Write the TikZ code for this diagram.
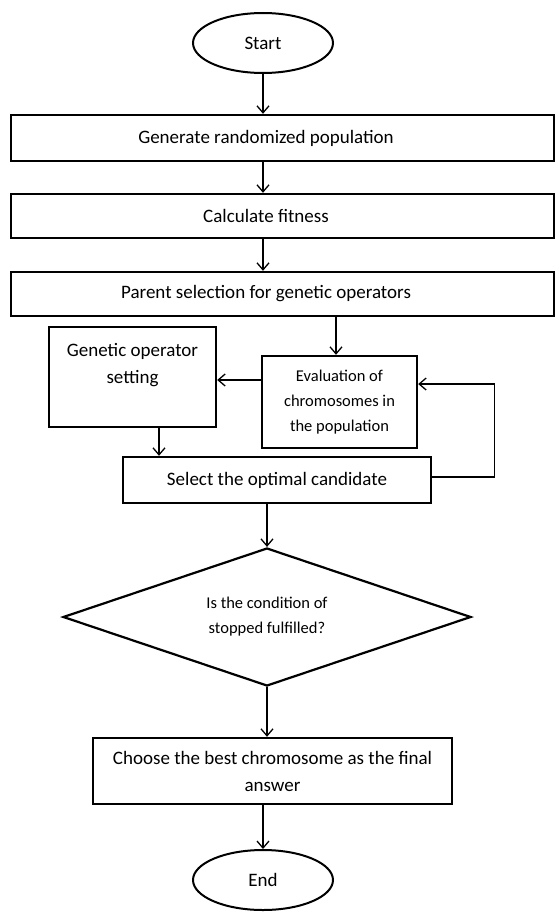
\documentclass[tikz,border=0pt]{standalone}
\usepackage{fontspec}
\setmainfont{Carlito}
\usetikzlibrary{shapes.geometric,arrows.meta}
\tikzset{
  box/.style={draw, rectangle, line width=2.4pt, inner sep=0pt},
  term/.style={draw, ellipse, line width=2pt, minimum width=140pt, minimum height=60pt, inner sep=0pt},
  cond/.style={draw, diamond, aspect=2.96, line width=2.2pt, minimum width=408pt, minimum height=138pt, inner sep=0pt, align=center},
  arr/.style={-{Straight Barb[length=7pt,width=12pt]}, line width=1.3pt},
  small/.style={font=\fontsize{16.5}{25}\selectfont},
}
\begin{document}
\begin{tikzpicture}[x=1pt, y=-1pt, line cap=round, font=\fontsize{19}{27}\selectfont]
    \useasboundingbox (0,0) rectangle (555,915);
    \node[term] (start) at (263,43) {Start};    %start
    \node[box, minimum width=543pt, minimum height=46pt] (gen) at (282.5,138) {\hspace*{-33pt}Generate randomized population};
    \node[box, minimum width=543pt, minimum height=44pt] (fit) at (282.5,216) {\hspace*{-33pt}Calculate fitness};
    \node[box, minimum width=543pt, minimum height=44pt] (par) at (282.5,294) {\hspace*{-33pt}Parent selection for genetic operators};
    \node[box, minimum width=167pt, minimum height=100pt, align=center] (oper) at (132.5,377) {Genetic operator\\setting\\\mbox{}};
    \node[box, small, minimum width=155pt, minimum height=92pt, align=center] (eval) at (339.5,402) {Evaluation of\\chromosomes in\\the population};
    \node[box, minimum width=308pt, minimum height=46pt] (sel) at (277,480) {Select the optimal candidate};
    \node[cond, small] (stop) at (267,617) {Is the condition of\\stopped fulfilled?};
    \node[box, minimum width=359pt, minimum height=66pt, align=center] (best) at (272.5,771) {Choose the best chromosome as the final\\answer};
    \node[term] (end) at (263,880) {End};    %end

    \draw[arr] (start) -- (start |- gen.north);     % start-gen
    \draw[arr] (start |- gen.south) -- (start |- fit.north);
    \draw[arr] (start |- fit.south) -- (start |- par.north);
    \draw[arr] ([xshift=-3.5pt]eval.north |- par.south) -- ([xshift=-3.5pt]eval.north);
    \draw[arr] ([yshift=22pt]eval.west) -- ([yshift=22pt]eval.west -| oper.east);
    \draw[arr] ([xshift=26.5pt]oper.south) -- ([xshift=26.5pt]oper.south |- sel.north);
    \draw[arr] ([yshift=3pt]sel.east) -- ++(62,0) |- ([yshift=18pt]eval.east);     % loop back
    \draw[arr] (stop.north |- sel.south) -- (stop.north);
    \draw[arr] (stop.south) -- (stop.south |- best.north);
    \draw[arr] (end |- best.south) -- (end.north);
\end{tikzpicture}
\end{document}
